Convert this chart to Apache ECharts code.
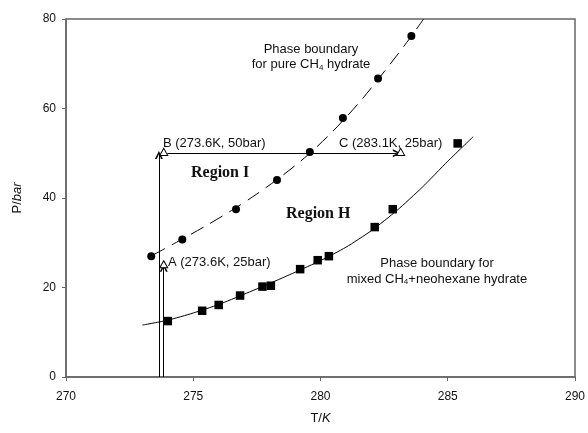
<!DOCTYPE html>
<html>
<head>
<meta charset="utf-8">
<script src="https://cdn.jsdelivr.net/npm/echarts@6/dist/echarts.min.js"></script>
<style>
  html, body { margin: 0; padding: 0; background: #fff; }
  #main { width: 588px; height: 433px; }
</style>
</head>
<body>
<div id="main"></div>
<script>
let ch4T = [273.35, 274.57, 276.68, 278.29, 279.58, 280.88, 282.26, 283.57];
let ch4P = [27.0, 30.7, 37.5, 44.0, 50.3, 57.9, 66.7, 76.2];

let mixT = [274.0, 275.35, 276.0, 276.84, 277.72, 278.05, 279.2, 279.89, 280.33, 282.13, 282.84, 285.39];
let mixP = [12.5, 14.8, 16.1, 18.2, 20.2, 20.4, 24.1, 26.1, 27.0, 33.5, 37.5, 52.2];

// boundary curves
let ch4FitT = [273.4, 274.5, 275.5, 276.5, 277.5, 278.5, 279.5, 280.5, 281.5, 282.5, 283.5, 284.05];
let ch4FitP = [27.2, 30.6, 33.8, 37.2, 40.9, 45.0, 49.6, 55.0, 61.2, 68.2, 75.6, 80.0];

let mixFitT = [273.0, 274.0, 275.0, 276.0, 277.0, 278.0, 279.0, 280.0, 281.0, 282.0, 283.0, 284.0, 285.0, 286.0];
let mixFitP = [11.6, 12.7, 14.3, 16.2, 18.5, 20.9, 23.4, 26.0, 29.0, 32.7, 37.2, 42.4, 48.2, 53.7];

// state points A, B, C
let stateT = [273.84, 273.84, 283.15];
let stateP = [25.2, 50.3, 50.3];

// arrows (from, to)
let arrows = [
    [[273.65, 0], [273.65, 49.6]],
    [[273.84, 0], [273.84, 24.4]],
    [[273.98, 50.0], [283.0, 50.0]],
];

let xTicks = [270, 290, 5];
let yTicks = [0, 80, 20];

let zip = (a, b) => a.map((v, i) => [v, b[i]]);

let dom = document.getElementById("main");
let myChart = echarts.init(dom, null, { renderer: "canvas" });

let font = "Liberation Sans, Arial, sans-serif";
let serif = "Liberation Serif, Times New Roman, serif";
let sub = { fontSize: 8, fontFamily: font, fill: "#111", padding: [6, 0, 0, 0] };
// open "V" arrow head, tip at top
let openArrow = "path://M5,0 L10,10 L7.8,10 L5,4 L2.2,10 L0,10 Z";

let txt = (x, y, text, align, extra) => ({
    type: "text",
    x: x,
    y: y,
    style: Object.assign({
        text: text,
        fontSize: 13,
        fontFamily: font,
        fill: "#111",
        align: align,
        verticalAlign: "middle",
        lineHeight: 16,
        rich: { sub: sub },
    }, extra || {}),
});

let option = {
    animation: false,
    grid: { left: 66, right: 11, top: 19, bottom: 56, show: true, borderColor: "#666", borderWidth: 1.5 },
    xAxis: {
        type: "value",
        min: xTicks[0],
        max: xTicks[1],
        interval: xTicks[2],
        name: "T/{i|K}",
        nameLocation: "middle",
        nameGap: 35,
        nameTextStyle: { fontSize: 13, fontFamily: font, color: "#111", rich: { i: { fontStyle: "italic", fontSize: 13, fontFamily: font } } },
        axisLine: { lineStyle: { color: "#666", width: 1.5 } },
        axisTick: { inside: false, length: 4, lineStyle: { color: "#666" } },
        axisLabel: { fontSize: 12, fontFamily: font, color: "#111", margin: 14 },
        splitLine: { show: false },
    },
    yAxis: {
        type: "value",
        min: yTicks[0],
        max: yTicks[1],
        interval: yTicks[2],
        name: "P/{i|bar}",
        nameLocation: "middle",
        nameGap: 42,
        nameTextStyle: { fontSize: 13, fontFamily: font, color: "#111", rich: { i: { fontStyle: "italic", fontSize: 13, fontFamily: font } } },
        axisLine: { lineStyle: { color: "#666", width: 1.5 } },
        axisTick: { inside: false, length: 4, lineStyle: { color: "#666" } },
        axisLabel: { fontSize: 12, fontFamily: font, color: "#111", margin: 10 },
        splitLine: { show: false },
    },
    series: [{
        type: "line",
        data: zip(ch4FitT, ch4FitP),
        smooth: 0.3,
        showSymbol: false,
        lineStyle: { color: "#000", width: 1, type: [14, 8] },
        z: 2,
    }, {
        type: "line",
        data: zip(mixFitT, mixFitP),
        smooth: 0.2,
        showSymbol: false,
        lineStyle: { color: "#000", width: 1 },
        z: 2,
    }, {
        type: "scatter",
        data: zip(ch4T, ch4P),
        symbol: "circle",
        symbolSize: 8,
        itemStyle: { color: "#000", opacity: 1 },
        z: 3,
    }, {
        type: "scatter",
        data: zip(mixT, mixP),
        symbol: "rect",
        symbolSize: 8.5,
        itemStyle: { color: "#000", opacity: 1 },
        z: 3,
    }, {
        type: "lines",
        coordinateSystem: "cartesian2d",
        data: arrows.map((c) => ({ coords: c })),
        symbol: ["none", openArrow],
        symbolSize: [7, 8],
        lineStyle: { color: "#000", width: 1, opacity: 1 },
        z: 3,
    }, {
        type: "scatter",
        data: zip(stateT, stateP),
        symbol: "triangle",
        symbolSize: [8, 7],
        itemStyle: { color: "#fff", borderColor: "#000", borderWidth: 1, opacity: 1 },
        z: 4,
    }, ],
    graphic: [
        txt(311, 57, "Phase boundary\nfor pure CH{sub|4} hydrate", "center", { lineHeight: 15 }),
        txt(437, 271, "Phase boundary for\nmixed CH{sub|4}+neohexane hydrate", "center", { lineHeight: 16 }),
        txt(163, 143, "B (273.6K, 50bar)", "left"),
        txt(339, 143, "C (283.1K, 25bar)", "left"),
        txt(168, 262, "A (273.6K, 25bar)", "left"),
        txt(191, 173, "Region I", "left", { fontFamily: serif, fontWeight: "bold", fontSize: 16 }),
        txt(286, 214, "Region H", "left", { fontFamily: serif, fontWeight: "bold", fontSize: 16 }),
    ],
};

if (option && typeof option === "object") {
    myChart.setOption(option);
}

window.addEventListener("resize", myChart.resize);
</script>
</body>
</html>
